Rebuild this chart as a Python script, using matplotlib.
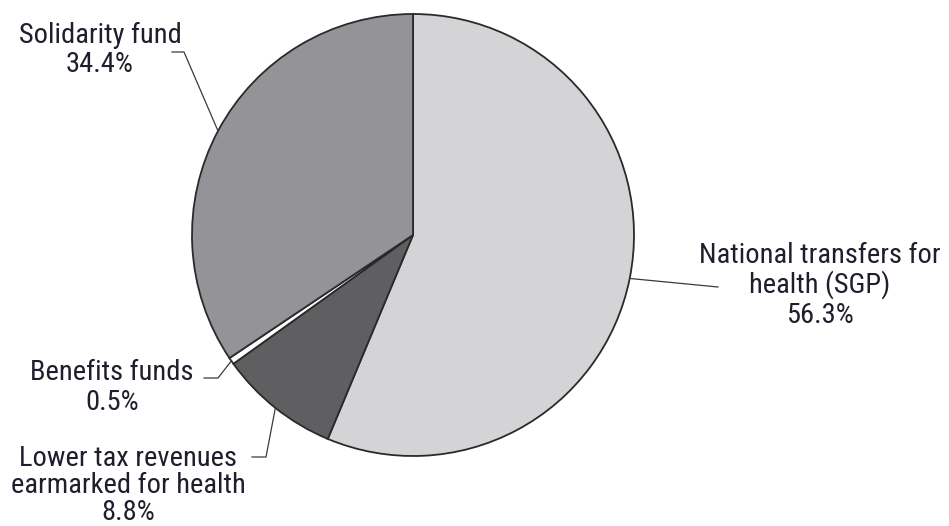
import matplotlib
matplotlib.use("Agg")
import matplotlib.pyplot as plt
import numpy as np

labels = [["National transfers for", "health (SGP)"],
          ["Lower tax revenues", "earmarked for health"],
          ["Benefits funds"],
          ["Solidarity fund"]]
shares = [56.3, 8.8, 0.5, 34.4]
colors = ["#d4d4d6", "#5f5f62", "#ffffff", "#949498"]

# text block: centre x, first baseline, line pitch (pixels, y down)
label_pos = [(820, 263, 30), (128, 466, 27), (112, 380, 30), (100, 43, 29)]
# leader line: elbow point, then free end
elbows = [(718, 287), (266, 457), (218, 378), (184, 52)]
ends = [(718, 287), (252, 457), (204, 378), (172, 52)]

text_color = "#1e1e2c"
fonts = ["Roboto Condensed", "Archivo Narrow", "DejaVu Sans"]

W, H = 949, 526
fig = plt.figure(figsize=(W / 100, H / 100), dpi=100)
ax = fig.add_axes([0, 0, 1, 1])

cx, cy, r = 413, 235, 221
wedges, _ = ax.pie(shares, colors=colors, startangle=90, counterclock=False,
                   center=(cx, H - cy), radius=r, frame=True,
                   wedgeprops=dict(edgecolor="#2a2a2a", linewidth=1.3))
ax.set_xlim(0, W)
ax.set_ylim(0, H)
ax.set_aspect("equal")
ax.axis("off")

for w, lab, share, (tx, ty, pitch), (ex, ey), (fx, fy) in zip(wedges, labels, shares, label_pos, elbows, ends):
    mid = np.deg2rad((w.theta1 + w.theta2) / 2)
    px = cx + r * np.cos(mid)
    py = (H - cy) + r * np.sin(mid)
    ax.plot([px, ex, fx], [py, H - ey, H - fy], color="#3a3a3a", lw=0.9)
    lines = lab + [f"{share:.1f}%"]
    for i, line in enumerate(lines):
        ax.text(tx, H - (ty + i * pitch), line, ha="center", va="baseline",
                fontsize=20.5, family=fonts, color=text_color)

fig.savefig("out.png", dpi=100)
